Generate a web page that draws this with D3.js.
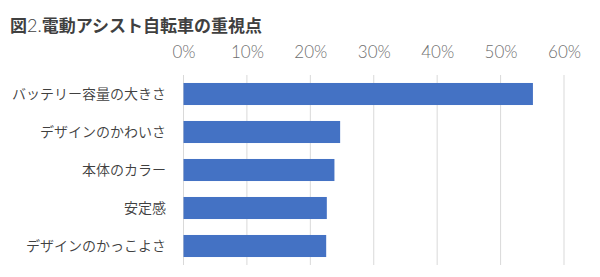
<!DOCTYPE html>
<html><head><meta charset="utf-8">
<script src="https://cdn.jsdelivr.net/npm/d3@7"></script>
<style>body{margin:0;background:#fff}</style>
</head><body>
<svg id="c" width="600" height="277"></svg>
<script>
const categories = ["バッテリー容量の大きさ","デザインのかわいさ","本体のカラー","安定感","デザインのかっこよさ"];
const values = [55.1, 24.7, 23.8, 22.6, 22.5];
const tickValues = [0,10,20,30,40,50,60];
const titleParts = ["図","2.","電動アシスト自転車の重視点"];

const svg = d3.select("#c");
const m = {left:183.5, right:564, top:75, bottom:265};
const x = d3.scaleLinear().domain([0,60]).range([m.left, m.right]);
const y = d3.scaleBand().domain(categories).range([m.top, m.bottom]).paddingInner(0.42).paddingOuter(0.21);

const t = svg.append("text").attr("x",10).attr("y",32)
  .attr("font-family","'Noto Sans CJK JP'").attr("font-weight","bold").attr("font-size",17)
  .attr("fill","#404040");
t.selectAll("tspan").data(titleParts).join("tspan")
  .attr("font-family",(d,i)=>i===1?"Lato":"'Noto Sans CJK JP'")
  .attr("font-weight",(d,i)=>i===1?300:"bold")
  .attr("font-size",(d,i)=>i===1?18:17)
  .text(d=>d);

const grid = svg.append("g");
grid.selectAll("line").data(tickValues).join("line")
  .attr("x1",d=>x(d)).attr("x2",d=>x(d)).attr("y1",m.top).attr("y2",m.bottom)
  .attr("stroke","#d9d9d9").attr("stroke-width",1);

const axis = d3.axisTop(x).tickValues(tickValues).tickFormat(d=>d+"%").tickSize(0);
const ag = svg.append("g").attr("transform",`translate(0,${m.top-14})`).call(axis);
ag.select(".domain").remove();
ag.selectAll("text").attr("font-family","Lato").attr("font-weight",300).attr("font-size",17).attr("fill","#6f6f6f").attr("dy",0);

svg.append("g").selectAll("rect").data(values).join("rect")
  .attr("x",x(0)).attr("y",(d,i)=>y(categories[i]))
  .attr("width",d=>x(d)-x(0)).attr("height",y.bandwidth())
  .attr("fill","#4472C4");

svg.append("g").selectAll("text").data(categories).join("text")
  .attr("x",166).attr("y",d=>y(d)+y.bandwidth()/2).attr("dy","0.35em")
  .attr("text-anchor","end").attr("font-family","'Noto Sans CJK JP'").attr("font-weight",350).attr("font-size",14)
  .attr("fill","#404040").text(d=>d);
</script>
</body></html>
